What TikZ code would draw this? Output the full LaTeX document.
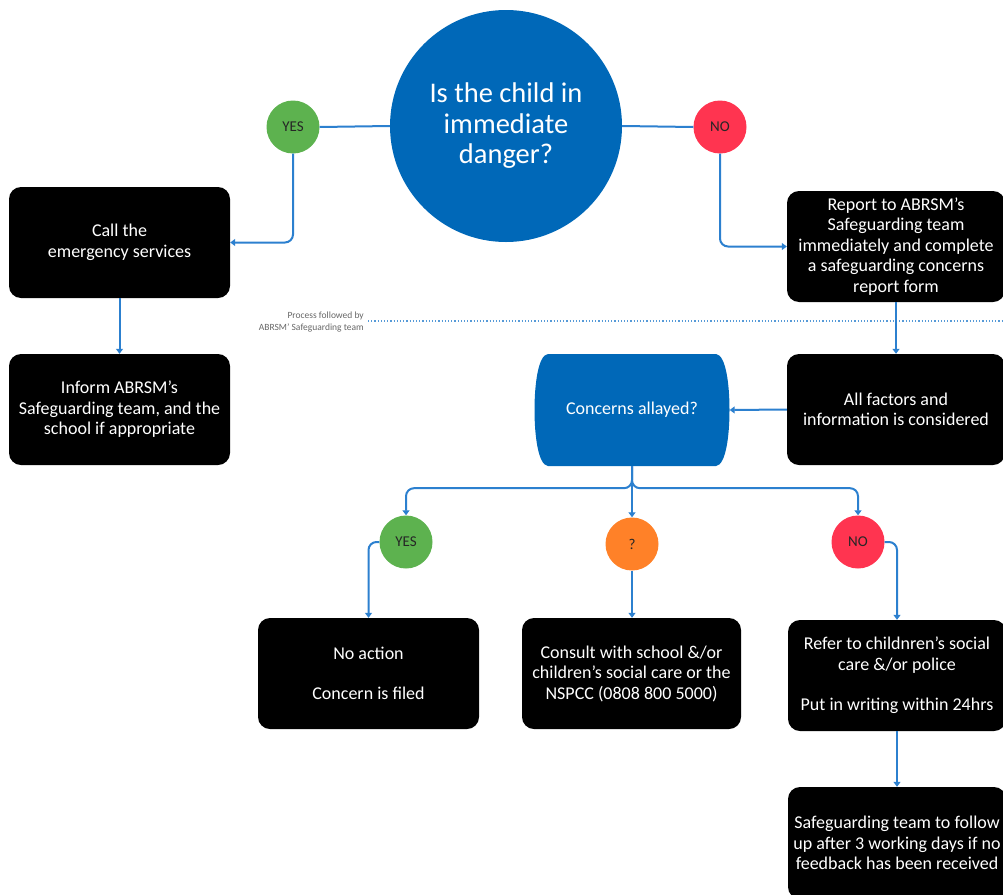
\documentclass[tikz,border=0pt]{standalone}
\usepackage{fontspec}
\setmainfont{Carlito}
\usetikzlibrary{arrows.meta}
\definecolor{cblue}{HTML}{0068B8}
\definecolor{lblue}{HTML}{2C80CF}
\definecolor{cgreen}{HTML}{5DB24F}
\definecolor{cred}{HTML}{FF3450}
\definecolor{corange}{HTML}{FF8128}
\begin{document}
\begin{tikzpicture}[x=1pt,y=-1pt,
  box/.style={fill=black, rounded corners=12pt, text=white, align=center,
    minimum width=221pt, minimum height=111pt, inner sep=0pt,
    font=\fontsize{18}{20.5}\selectfont},
  dot/.style={circle, minimum size=53pt, inner sep=0pt,
    font=\fontsize{15}{17}\selectfont, text=black!85},
  link/.style={draw=lblue, line width=2pt, rounded corners=8pt},
  conn/.style={link, -{Triangle[width=7pt,length=5pt]}}]
\useasboundingbox (0,0) rectangle (1003,894);
\clip (0,0) rectangle (1003,894);

% top question
\node[circle, fill=cblue, minimum size=232pt, inner sep=0pt, text=white, align=center,
  font=\fontsize{28.5}{30.5}\selectfont] (q) at (506,126) {Is the child in\\immediate\\danger?};
\node[dot, fill=cgreen] (y1) at (293,127) {YES};
\node[dot, fill=cred] (n1) at (720,127) {NO};

\node[box] (call) at (119.5,242.5) {Call the\\emergency services};
\node[box] (inform) at (119.5,409.5) {Inform ABRSM’s\\Safeguarding team, and the\\school if appropriate};
\node[box, minimum width=218pt] (report) at (896,246.5) {Report to ABRSM’s\\Safeguarding team\\immediately and complete\\a safeguarding concerns\\report form};
\node[box, minimum width=218pt] (factors) at (896,409.5) {All factors and\\information is considered};

% dotted divider
\node[anchor=east, align=right, inner sep=0pt, text=black!60,
  font=\fontsize{9.5}{12}\selectfont] (lbl) at (364,322) {Process followed by\\ABRSM’ Safeguarding team};
\coordinate (dl) at (368,321);
\coordinate (dr) at (1003,321);
\draw[lblue!80, dotted, line width=1.2pt] (dl) -- (dr);

% concerns allayed
\fill[cblue] (548,354) -- (716,354) .. controls (726,355) and (729.5,385) .. (729.5,410)
  .. controls (729.5,435) and (726,465) .. (716,466) -- (548,466)
  .. controls (538,465) and (534.5,435) .. (534.5,410)
  .. controls (534.5,385) and (538,355) .. (548,354) -- cycle;
\node[minimum width=195pt, minimum height=112pt, inner sep=0pt, text=white,
  font=\fontsize{18}{20.5}\selectfont] (ca) at (632,410) {Concerns allayed?};

\node[dot, fill=cgreen] (y2) at (406,542) {YES};
\node[dot, fill=corange] (m2) at (632,544) {?};
\node[dot, fill=cred] (n2) at (858,542) {NO};

\node[box] (noact) at (368.5,673.5) {No action\\[20pt]Concern is filed};
\node[box, minimum width=219pt] (consult) at (631.5,673.5) {Consult with school \&/or\\children’s social care or the\\NSPCC (0808 800 5000)};
\node[box, minimum width=218pt] (refer) at (897,675.5) {Refer to childnren’s social\\care \&/or police\\[20pt]Put in writing within 24hrs};
\node[box, minimum width=218pt, minimum height=112pt] (follow) at (897,843) {Safeguarding team to follow\\up after 3 working days if no\\feedback has been received};

% connectors
\draw[link] (q.west) -- (y1.east);
\draw[conn] (y1.south) |- (call.east);
\draw[conn] (call.south) -- (inform.north);
\draw[link] (q.east) -- (n1.west);
\draw[conn] (n1.south) |- (report.west);
\draw[conn] (report.south) -- (factors.north);
\draw[conn] (factors.west) -- (ca.east);
\draw[conn] (ca.south) -- ++(0,22) -| (y2.north);
\draw[conn] (ca.south) -- (m2.north);
\draw[conn] (ca.south) -- ++(0,22) -| (n2.north);
\draw[conn] (y2.west) -| (noact.north);
\draw[conn] (m2.south) -- (m2.south |- consult.north);
\draw[conn] (n2.east) -| (refer.north);
\draw[conn] (refer.south) -- (follow.north);
\end{tikzpicture}
\end{document}
